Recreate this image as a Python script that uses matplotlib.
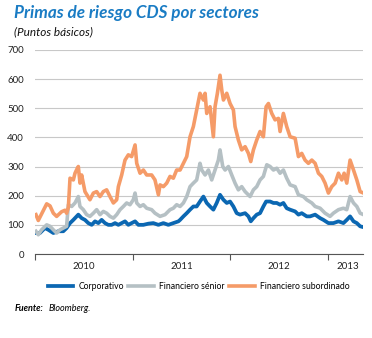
import matplotlib.pyplot as plt
import numpy as np

plt.rcParams['font.family'] = ['Lato', 'DejaVu Sans']

# decimal years, values in basis points
t_corp = [2010.010, 2010.051, 2010.102, 2010.137, 2010.188, 2010.239, 2010.290, 2010.324, 2010.359, 2010.393,
          2010.427, 2010.444, 2010.478, 2010.512, 2010.546, 2010.581, 2010.615, 2010.649, 2010.683, 2010.717,
          2010.751, 2010.785, 2010.820, 2010.854, 2010.888, 2010.922, 2010.956, 2010.990, 2011.025, 2011.059,
          2011.110, 2011.161, 2011.212, 2011.264, 2011.315, 2011.366, 2011.417, 2011.469, 2011.486, 2011.520,
          2011.554, 2011.588, 2011.622, 2011.656, 2011.690, 2011.725, 2011.759, 2011.793, 2011.827, 2011.861,
          2011.895, 2011.930, 2011.964, 2011.998, 2012.032, 2012.066, 2012.100, 2012.152, 2012.186, 2012.210,
          2012.237, 2012.271, 2012.305, 2012.339, 2012.367, 2012.408, 2012.442, 2012.476, 2012.510, 2012.544,
          2012.578, 2012.613, 2012.664, 2012.698, 2012.732, 2012.783, 2012.817, 2012.869, 2012.920, 2012.954,
          2013.005, 2013.056, 2013.108, 2013.159, 2013.193, 2013.227, 2013.262, 2013.296, 2013.330, 2013.364]
corporativo = [72, 72, 89, 83, 72, 78, 78, 89, 106, 117,
               129, 135, 123, 117, 106, 100, 112, 106, 117, 106,
               100, 100, 106, 100, 106, 112, 100, 106, 112, 100,
               100, 104, 106, 100, 106, 100, 106, 112, 117, 129,
               140, 152, 163, 163, 180, 197, 175, 163, 152, 175,
               203, 186, 175, 180, 163, 140, 135, 140, 129, 112,
               123, 135, 140, 163, 180, 180, 175, 175, 169, 175,
               157, 152, 146, 135, 140, 129, 129, 135, 123, 117,
               106, 106, 112, 106, 117, 129, 112, 106, 95, 92]

t_sen = [2010.010, 2010.034, 2010.068, 2010.120, 2010.154, 2010.188, 2010.222, 2010.256, 2010.290, 2010.324,
         2010.342, 2010.376, 2010.410, 2010.444, 2010.461, 2010.495, 2010.529, 2010.563, 2010.598, 2010.632,
         2010.666, 2010.700, 2010.734, 2010.768, 2010.803, 2010.837, 2010.871, 2010.905, 2010.939, 2010.973,
         2011.007, 2011.025, 2011.042, 2011.076, 2011.110, 2011.144, 2011.195, 2011.229, 2011.281, 2011.332,
         2011.383, 2011.417, 2011.451, 2011.486, 2011.520, 2011.554, 2011.588, 2011.622, 2011.656, 2011.690,
         2011.708, 2011.742, 2011.776, 2011.810, 2011.844, 2011.878, 2011.895, 2011.923, 2011.947, 2011.981,
         2012.015, 2012.049, 2012.083, 2012.117, 2012.152, 2012.203, 2012.237, 2012.271, 2012.305, 2012.339,
         2012.374, 2012.408, 2012.442, 2012.476, 2012.510, 2012.544, 2012.578, 2012.613, 2012.664, 2012.698,
         2012.749, 2012.783, 2012.835, 2012.869, 2012.920, 2012.971, 2013.022, 2013.056, 2013.108, 2013.159,
         2013.193, 2013.227, 2013.262, 2013.296, 2013.330, 2013.364]
senior = [78, 66, 83, 100, 95, 83, 72, 83, 89, 95,
          169, 163, 175, 197, 163, 152, 135, 129, 140, 152,
          135, 146, 140, 129, 123, 135, 152, 163, 175, 169,
          186, 209, 175, 163, 169, 157, 152, 140, 129, 135,
          152, 157, 169, 163, 175, 197, 231, 243, 254, 311,
          288, 271, 288, 254, 288, 322, 357, 300, 288, 300,
          271, 243, 220, 231, 214, 197, 220, 231, 254, 266,
          306, 300, 288, 294, 277, 288, 260, 237, 231, 203,
          197, 186, 175, 163, 157, 140, 129, 140, 152, 157,
          152, 197, 175, 163, 140, 135]

t_sub = [2010.010, 2010.034, 2010.120, 2010.154, 2010.188, 2010.222, 2010.273, 2010.307, 2010.324, 2010.342,
         2010.359, 2010.393, 2010.410, 2010.434, 2010.444, 2010.461, 2010.478, 2010.512, 2010.563, 2010.598,
         2010.632, 2010.666, 2010.700, 2010.734, 2010.768, 2010.803, 2010.837, 2010.854, 2010.888, 2010.922,
         2010.956, 2010.990, 2011.025, 2011.042, 2011.076, 2011.110, 2011.144, 2011.195, 2011.229, 2011.264,
         2011.281, 2011.315, 2011.349, 2011.383, 2011.417, 2011.451, 2011.486, 2011.520, 2011.554, 2011.588,
         2011.622, 2011.656, 2011.690, 2011.725, 2011.742, 2011.759, 2011.793, 2011.827, 2011.844, 2011.868,
         2011.895, 2011.913, 2011.930, 2011.964, 2011.998, 2012.032, 2012.049, 2012.083, 2012.117, 2012.152,
         2012.186, 2012.210, 2012.237, 2012.271, 2012.305, 2012.339, 2012.367, 2012.391, 2012.425, 2012.459,
         2012.493, 2012.510, 2012.544, 2012.578, 2012.613, 2012.664, 2012.698, 2012.732, 2012.766, 2012.800,
         2012.835, 2012.869, 2012.903, 2012.937, 2012.971, 2013.005, 2013.039, 2013.074, 2013.108, 2013.142,
         2013.166, 2013.193, 2013.227, 2013.262, 2013.296, 2013.330, 2013.364]
subordinado = [135, 115, 172, 165, 140, 129, 145, 150, 140, 160,
               260, 254, 277, 294, 300, 243, 271, 214, 186, 209,
               214, 197, 214, 220, 197, 175, 186, 231, 271, 322,
               340, 334, 374, 311, 277, 288, 271, 271, 254, 203,
               237, 231, 243, 266, 260, 288, 288, 311, 334, 402,
               437, 494, 551, 528, 551, 482, 505, 402, 505, 551,
               613, 562, 528, 551, 516, 494, 437, 391, 357, 368,
               345, 317, 357, 391, 420, 402, 505, 516, 482, 460,
               465, 420, 482, 437, 402, 397, 334, 345, 322, 311,
               322, 311, 277, 266, 243, 209, 231, 243, 277, 254,
               277, 243, 322, 288, 254, 214, 209]

years = [2010, 2011, 2012, 2013]

fig = plt.figure(figsize=(3.72, 3.38), dpi=100)
ax = fig.add_axes([0.094, 0.2485, 0.882, 0.604])

ax.plot(t_corp, corporativo, color='#0b67b2', lw=2.7, label='Corporativo')
ax.plot(t_sen, senior, color='#b5c0c4', lw=2.6, label='Financiero sénior')
ax.plot(t_sub, subordinado, color='#f59b68', lw=2.6, label='Financiero subordinado')

ax.set_xlim(2010, 2013.36)
ax.set_ylim(0, 700)
ax.set_yticks(range(0, 701, 100))
ax.yaxis.grid(True, color='#c8c8c8', lw=0.8)
ax.set_axisbelow(True)
for s in ['top', 'right', 'left']:
    ax.spines[s].set_visible(False)
ax.spines['bottom'].set_color('#555555')
ax.spines['bottom'].set_linewidth(0.8)
ax.tick_params(axis='y', length=0, labelsize=7, pad=8, colors='#222222')

ax.set_xticks(years)
ax.set_xticklabels([])
ax.set_xticks([y + 0.5 for y in years[:-1]] + [2013.2], minor=True)
ax.set_xticklabels([str(y) for y in years], minor=True)
ax.tick_params(axis='x', which='major', length=4, width=0.8, color='#555555', direction='out')
ax.tick_params(axis='x', which='minor', length=0, labelsize=7, pad=6, colors='#222222')

fig.text(0.038, 0.963, 'Primas de riesgo CDS por sectores', color='#1a7cc4',
         fontsize=12.3, fontweight='bold', fontstyle='italic', va='center')
fig.text(0.038, 0.907, '(Puntos básicos)', color='#111111', fontsize=8.5,
         fontstyle='italic', va='center')

fig.legend(loc='center', bbox_to_anchor=(0.534, 0.151), ncol=3, frameon=False,
           fontsize=6.2, handlelength=3.0, handletextpad=0.6, columnspacing=0.5)

fig.text(0.04, 0.088, 'Fuente:', fontsize=6.5, fontweight='bold', fontstyle='italic', va='center')
fig.text(0.13, 0.088, 'Bloomberg.', fontsize=6.5, fontstyle='italic', va='center')

fig.savefig('out.png', dpi=100)
